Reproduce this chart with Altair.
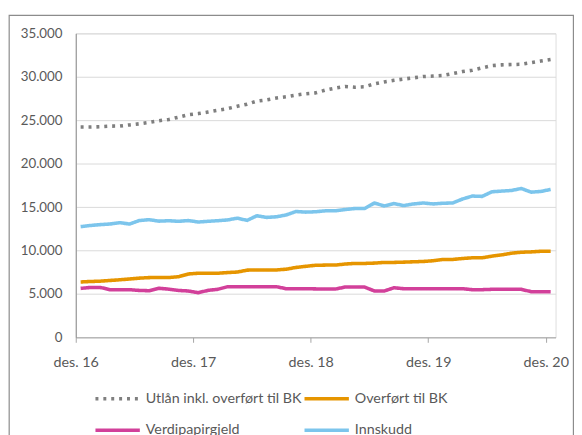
import altair as alt
import pandas as pd

tick_labels = ["des. 16", "des. 17", "des. 18", "des. 19", "des. 20"]
series_names = ["Utlån inkl. overført til BK", "Overført til BK", "Verdipapirgjeld", "Innskudd"]
series_colors = ["#7F7F7F", "#E69500", "#D2409A", "#7CC5EC"]
series_dash = [[3, 5], [1, 0], [1, 0], [1, 0]]

# Monthly values, des. 16 .. des. 20 (49 months), NOK bn
utlan = [24.21, 24.21, 24.25, 24.32, 24.33, 24.46, 24.59, 24.74, 24.94, 25.09,
         25.35, 25.64, 25.76, 25.94, 26.14, 26.33, 26.60, 26.85, 27.20, 27.34,
         27.55, 27.70, 27.90, 28.05, 28.15, 28.47, 28.70, 28.89, 28.80, 28.85,
         29.18, 29.40, 29.59, 29.74, 29.88, 30.03, 30.08, 30.15, 30.37, 30.60,
         30.75, 31.03, 31.28, 31.37, 31.41, 31.44, 31.63, 31.82, 32.00]
overfort = [6.38, 6.43, 6.47, 6.55, 6.63, 6.72, 6.82, 6.88, 6.89, 6.89,
            6.98, 7.30, 7.38, 7.38, 7.38, 7.46, 7.52, 7.74, 7.76, 7.76,
            7.76, 7.85, 8.05, 8.18, 8.30, 8.32, 8.32, 8.44, 8.51, 8.51,
            8.55, 8.63, 8.63, 8.66, 8.70, 8.74, 8.82, 8.97, 8.97, 9.08,
            9.16, 9.16, 9.35, 9.50, 9.69, 9.80, 9.84, 9.91, 9.91]
verdipapir = [5.64, 5.75, 5.75, 5.49, 5.49, 5.49, 5.40, 5.37, 5.65, 5.55,
              5.40, 5.34, 5.14, 5.41, 5.53, 5.83, 5.83, 5.83, 5.83, 5.83,
              5.83, 5.60, 5.60, 5.60, 5.58, 5.56, 5.56, 5.79, 5.79, 5.79,
              5.34, 5.34, 5.71, 5.60, 5.60, 5.60, 5.60, 5.60, 5.60, 5.60,
              5.49, 5.49, 5.53, 5.53, 5.53, 5.53, 5.26, 5.26, 5.26]
innskudd = [12.75, 12.88, 12.98, 13.05, 13.20, 13.05, 13.45, 13.55, 13.38, 13.43,
            13.36, 13.45, 13.28, 13.36, 13.43, 13.52, 13.72, 13.47, 14.00, 13.81,
            13.88, 14.10, 14.49, 14.42, 14.46, 14.57, 14.57, 14.72, 14.83, 14.83,
            15.47, 15.13, 15.40, 15.17, 15.36, 15.47, 15.36, 15.44, 15.47, 15.93,
            16.27, 16.23, 16.76, 16.84, 16.91, 17.14, 16.72, 16.80, 17.03]

rows = []
for name, vals in zip(series_names, [utlan, overfort, verdipapir, innskudd]):
    for i, v in enumerate(vals):
        rows.append({"m": i, "v": v * 1000, "serie": name})
df = pd.DataFrame(rows)

# legend fills column by column: order so rows read Utlån|Overført, Verdipapirgjeld|Innskudd
legend_order = [series_names[0], series_names[2], series_names[1], series_names[3]]
order_colors = [series_colors[series_names.index(s)] for s in legend_order]
order_dash = [series_dash[series_names.index(s)] for s in legend_order]

FONT = "Lato"
GRAY = "#595959"

W, H = 486.6, 308.3
PAD = {"left": 68.7, "top": 22.7, "right": 18.7, "bottom": 96}

label_expr = "[" + ",".join("'%s'" % t for t in tick_labels) + "][round(datum.value/12)]"

legend_kw = dict(title=None, orient="none", legendX=18, legendY=346,
                 columns=2, columnPadding=-11, rowPadding=-12,
                 symbolType="stroke", symbolSize=2025,
                 symbolStrokeWidth=3.6, labelOffset=4,
                 labelFont=FONT, labelFontSize=14.5, labelColor=GRAY,
                 labelLimit=400, padding=0)

lines = alt.Chart(df).mark_line(strokeWidth=3.6, strokeCap="butt", strokeJoin="round").encode(
    x=alt.X("m:Q",
            scale=alt.Scale(domain=[-0.5, 48.5], nice=False, zero=False),
            axis=alt.Axis(values=[0, 12, 24, 36, 48], labelExpr=label_expr, title=None,
                          grid=False, tickOffset=-4.97, tickSize=5, tickColor="#A6A6A6",
                          domainColor="#A6A6A6", labelPadding=14, labelFont=FONT,
                          labelFontSize=14.5, labelColor=GRAY)),
    y=alt.Y("v:Q",
            scale=alt.Scale(domain=[0, 35000], nice=False),
            axis=alt.Axis(values=[0, 5000, 10000, 15000, 20000, 25000, 30000, 35000],
                          labelExpr="replace(format(datum.value, ','), ',', '.')",
                          title=None, ticks=False, grid=True, gridColor="#D9D9D9",
                          domainColor="#8C8C8C", labelPadding=14, labelFont=FONT,
                          labelFontSize=13.5, labelColor=GRAY)),
    color=alt.Color("serie:N", sort=legend_order,
                    scale=alt.Scale(domain=legend_order, range=order_colors),
                    legend=alt.Legend(**legend_kw)),
    strokeDash=alt.StrokeDash("serie:N", sort=legend_order,
                              scale=alt.Scale(domain=legend_order, range=order_dash),
                              legend=alt.Legend(**legend_kw)),
    order=alt.Order("m:Q"),
)

frame = alt.Chart(pd.DataFrame({"a": [0]})).mark_rect(
    fill=None, stroke="#8C8C8C", strokeWidth=1.2
).encode(
    x=alt.value(-67.5), x2=alt.value(504.7), y=alt.value(-18.2), y2=alt.value(430)
)

chart = alt.layer(frame, lines).properties(
    width=W, height=H,
    autosize=alt.AutoSizeParams(type="none"),
    padding=PAD,
).configure_view(stroke=None).configure(background="white")

chart.save("out.html", embed_options={"renderer": "svg", "actions": False})
